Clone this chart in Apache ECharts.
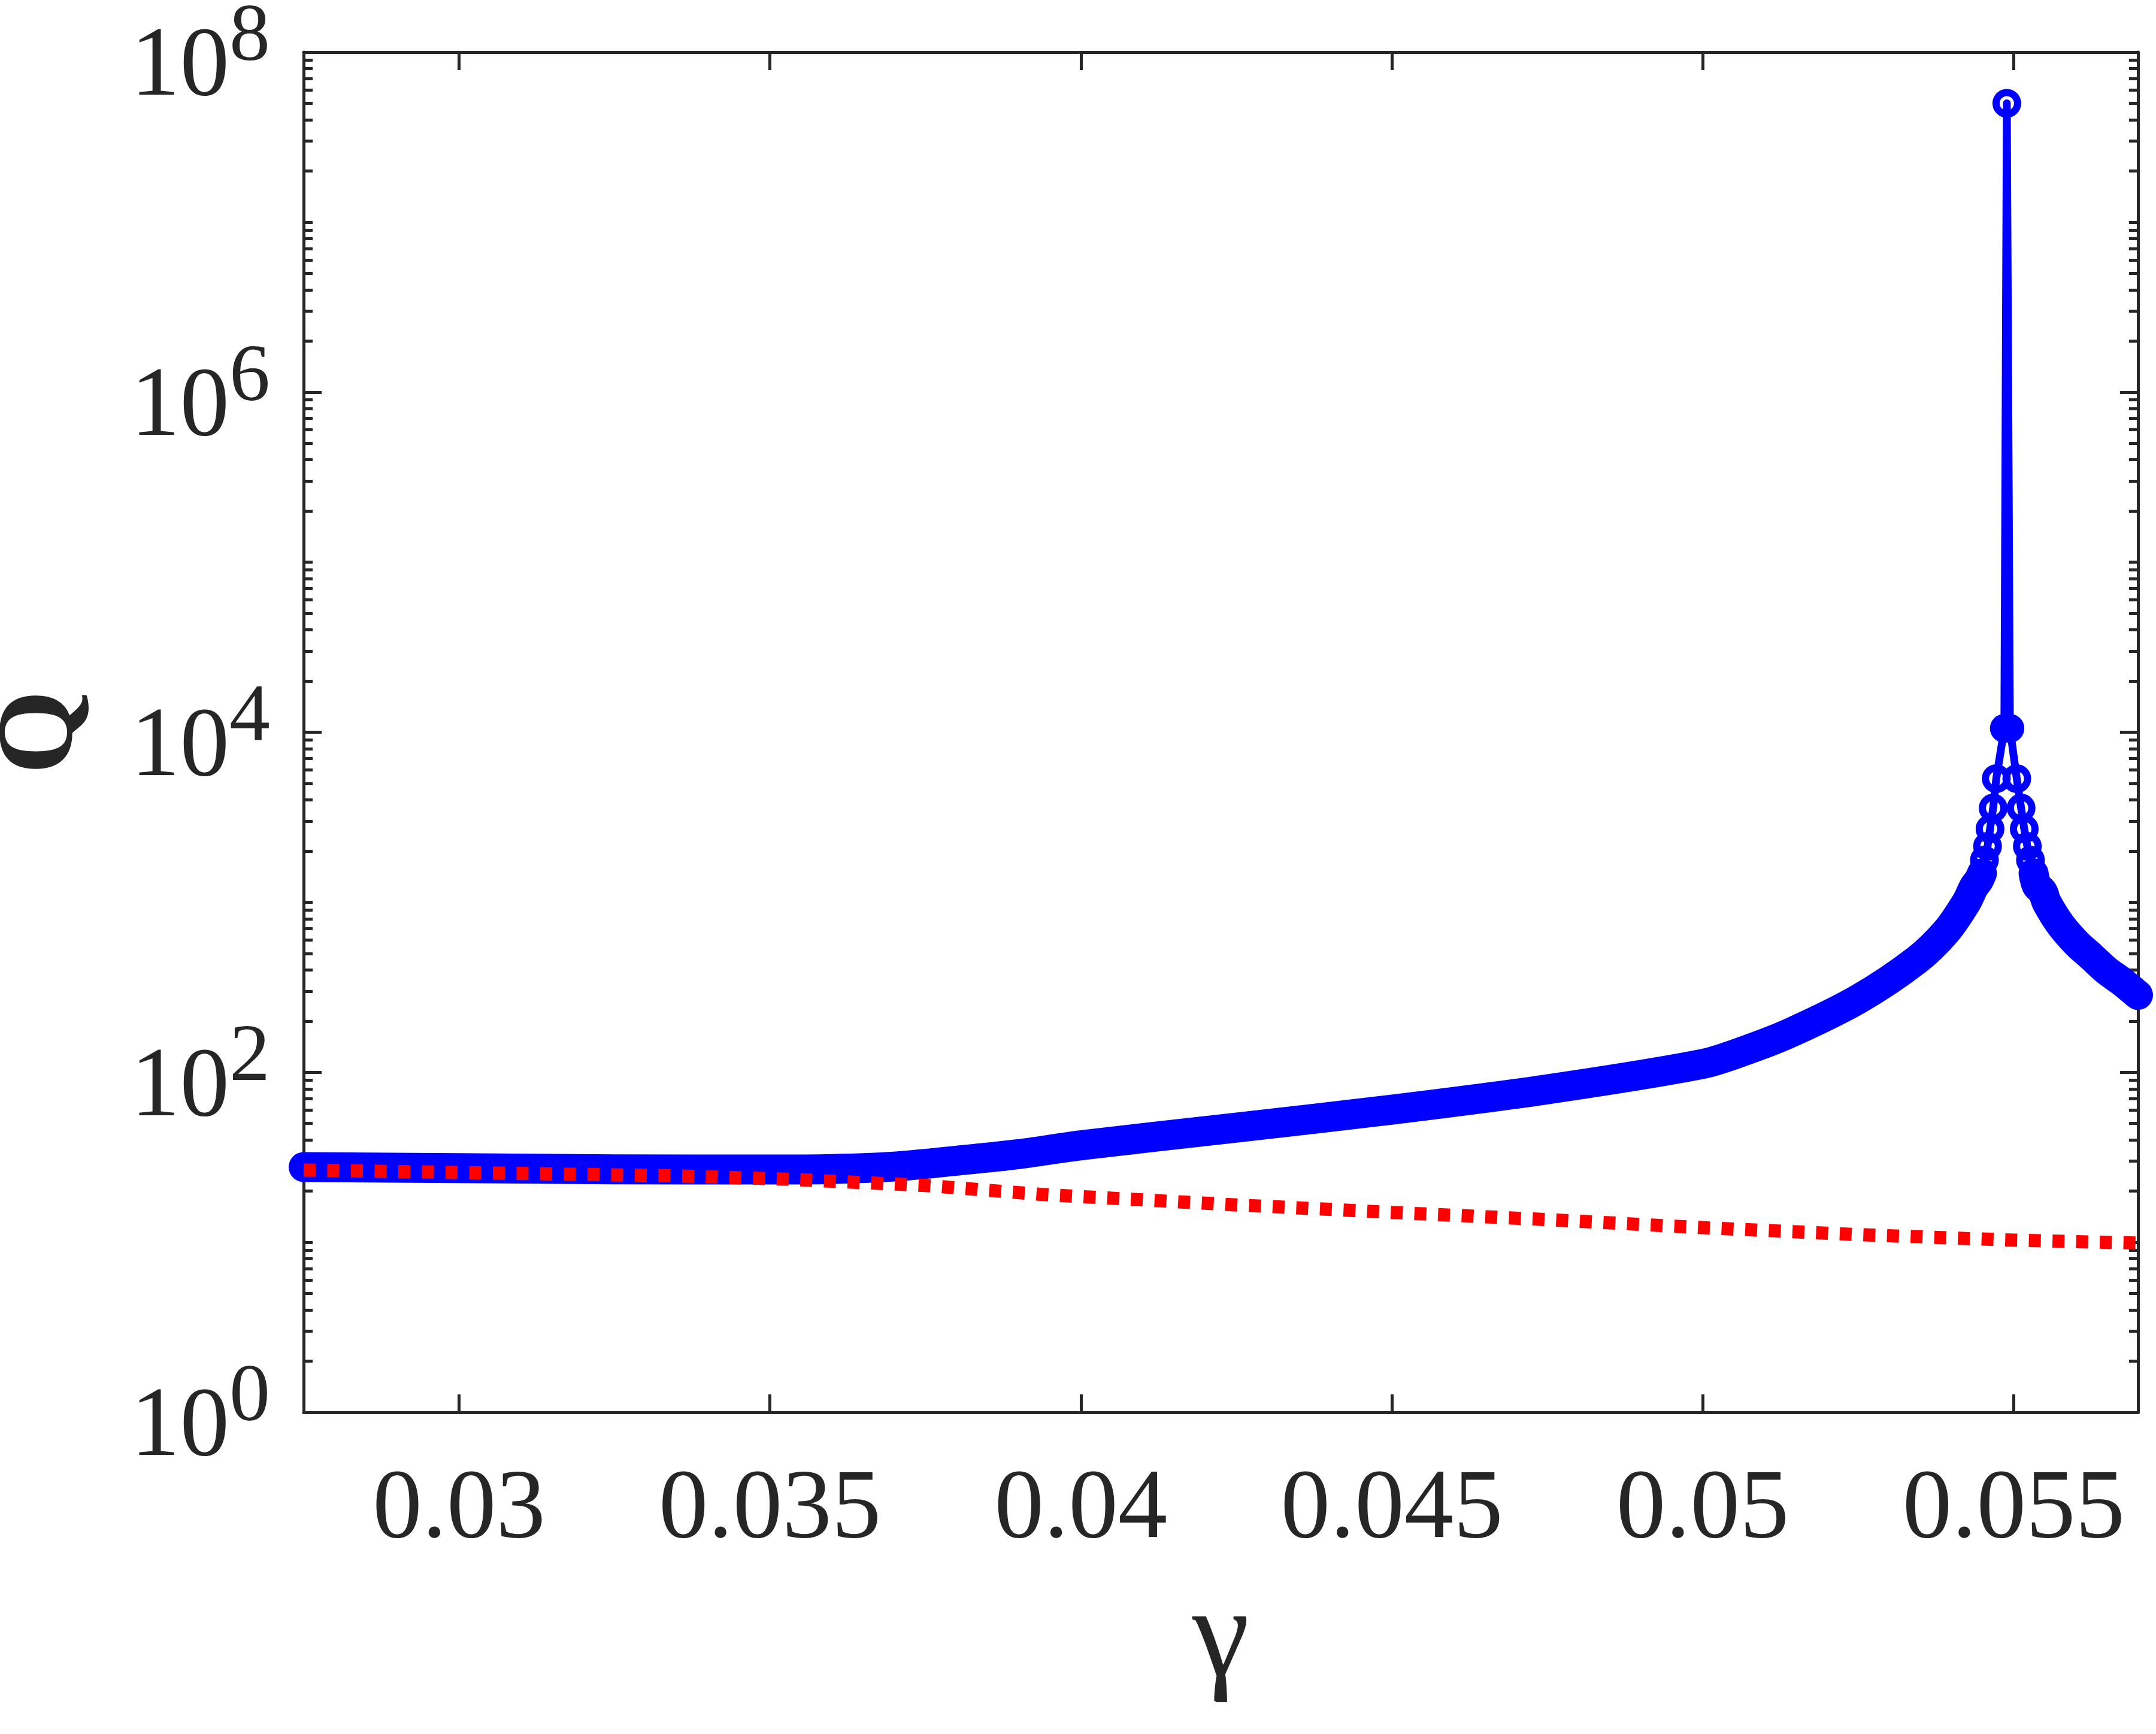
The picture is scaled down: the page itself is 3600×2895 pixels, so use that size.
<!DOCTYPE html>
<html>
<head>
<meta charset="utf-8">
<title>Q versus gamma</title>
<script src="https://cdn.jsdelivr.net/npm/echarts@6.0.0/dist/echarts.min.js"></script>
<style>
  html, body { margin: 0; padding: 0; background: #fff; }
  #chart { width: 3600px; height: 2895px; }
</style>
</head>
<body>
<div id="chart"></div>
<script>
// blue curve, branch below the resonance (dense markers merge into a band)
const gammaLeft = [0.0275, 0.0300, 0.0325, 0.0350, 0.0360, 0.0370, 0.0380, 0.0390, 0.0400, 0.0425,
  0.0450, 0.0475, 0.0500, 0.0507, 0.0514, 0.0525, 0.05344, 0.05392, 0.05424, 0.05436, 0.05444, 0.05449]
const qLeft = [27.7, 27.3, 26.9, 26.8, 27.0, 27.9, 30.2, 33.0, 37.2, 47.3,
  60.3, 79.4, 112, 135, 170, 269, 457, 676, 1000, 1230, 1350, 1479]

// blue curve around the resonance, where single circles are visible
const gammaPeak = [0.05436, 0.05444, 0.05449, 0.05453, 0.05458, 0.05462, 0.05467, 0.05472, 0.05485,
  0.05489, 0.05494, 0.05505, 0.05512, 0.05517, 0.05522, 0.05527, 0.05532, 0.05537]
const qPeak = [1230, 1350, 1479, 1770, 2133, 2698, 3581, 5333, 10540,
  5.0e7, 10540, 5333, 3581, 2698, 2133, 1770, 1479, 1259]

// blue curve, branch above the resonance
const gammaRight = [0.05532, 0.05537, 0.05547, 0.05553, 0.05575, 0.05601, 0.05625, 0.05649, 0.05675, 0.05700]
const qRight = [1479, 1259, 1148, 1000, 741, 575, 479, 398, 339, 285]

// red dotted curve
const gammaRed = [0.0275, 0.0314, 0.0335, 0.0353, 0.0375, 0.0394, 0.0425, 0.0450, 0.0475, 0.0500, 0.0525, 0.0550, 0.0570]
const qRed = [26.6, 25.3, 24.6, 23.5, 21.6, 19.1, 16.6, 15.0, 13.6, 12.2, 11.1, 10.3, 9.9]

// axes
const xTicks = [0.03, 0.035, 0.04, 0.045, 0.05, 0.055]
const xTickLabels = ['0.03', '0.035', '0.04', '0.045', '0.05', '0.055']
const yDecadeLabels = [0, 2, 4, 6, 8]

const axisColor = '#262626'
const serif = '"Liberation Serif", "Times New Roman", serif'
const blue = '#0000ff'
const red = '#ff0000'

function pairs(xs, ys) {
  return xs.map((x, i) => [x, ys[i]])
}

// minor tick positions in decades: 2..9 x 10^k and the unlabeled decades
const yMinor = []
for (let k = 0; k < 8; k++) {
  for (let m = 1; m < 10; m++) {
    if (m === 1 && k % 2 === 0) continue
    yMinor.push(k + Math.log10(m))
  }
}

function tickAxis(position, values, length, extra) {
  return Object.assign({
    type: 'value',
    position: position,
    min: 0,
    max: 8,
    splitLine: { show: false },
    axisLine: { show: false },
    axisTick: { show: true, inside: true, length: length, customValues: values, lineStyle: { color: axisColor, width: 5 } },
    axisLabel: { show: false }
  }, extra || {})
}

function bandSeries(xs, ys) {
  return {
    type: 'line',
    xAxisIndex: 0,
    yAxisIndex: 0,
    data: pairs(xs, ys),
    symbol: 'none',
    smooth: 0.3,
    clip: false,
    silent: true,
    z: 2,
    lineStyle: { color: blue, width: 50, cap: 'round', join: 'round' }
  }
}

const chart = echarts.init(document.getElementById('chart'))

const option = {
  animation: false,
  backgroundColor: '#ffffff',
  grid: { left: 507, right: 30, top: 87, bottom: 537, containLabel: false, outerBoundsMode: 'none' },
  xAxis: [
    {
      type: 'value',
      position: 'bottom',
      min: 0.0275,
      max: 0.057,
      name: 'γ',
      nameLocation: 'middle',
      nameGap: 275,
      nameMoveOverlap: false,
      nameTextStyle: { fontFamily: serif, fontSize: 215, lineHeight: 215, color: axisColor },
      splitLine: { show: false },
      axisLine: { show: true, onZero: false, lineStyle: { color: axisColor, width: 5 } },
      axisTick: { show: true, inside: true, length: 30, customValues: xTicks, lineStyle: { color: axisColor, width: 5 } },
      axisLabel: {
        show: true,
        customValues: xTicks,
        margin: 81,
        fontFamily: serif,
        fontSize: 165,
        lineHeight: 168,
        color: axisColor,
        formatter: (v) => xTickLabels[xTicks.findIndex(t => Math.abs(t - v) < 1e-9)]
      }
    },
    {
      type: 'value',
      position: 'top',
      min: 0.0275,
      max: 0.057,
      splitLine: { show: false },
      axisLine: { show: true, onZero: false, lineStyle: { color: axisColor, width: 5 } },
      axisTick: { show: true, inside: true, length: 30, customValues: xTicks, lineStyle: { color: axisColor, width: 5 } },
      axisLabel: { show: false }
    }
  ],
  yAxis: [
    // log axis that carries the data
    {
      type: 'log',
      logBase: 10,
      min: 1,
      max: 1e8,
      show: false
    },
    tickAxis('left', yDecadeLabels, 30, {
      name: 'Q',
      nameLocation: 'middle',
      nameRotate: 90,
      nameGap: 345,
      nameMoveOverlap: false,
      nameTextStyle: { fontFamily: serif, fontSize: 180, fontWeight: 'bold', lineHeight: 180, color: axisColor },
      axisLine: { show: true, onZero: false, lineStyle: { color: axisColor, width: 5 } },
      axisLabel: {
        show: true,
        customValues: yDecadeLabels,
        margin: 56,
        padding: [56, 0, 0, 0],
        formatter: (v) => '{b|10}{s|' + Math.round(v) + '}',
        rich: {
          b: { fontFamily: serif, fontSize: 165, lineHeight: 237, verticalAlign: 'middle', color: axisColor },
          s: { fontFamily: serif, fontSize: 136, lineHeight: 100, verticalAlign: 'top', color: axisColor }
        }
      }
    }),
    tickAxis('left', yMinor, 15),
    tickAxis('right', yDecadeLabels, 30, {
      axisLine: { show: true, onZero: false, lineStyle: { color: axisColor, width: 5 } }
    }),
    tickAxis('right', yMinor, 15)
  ],
  series: [
    bandSeries(gammaLeft, qLeft),
    bandSeries(gammaRight, qRight),
    {
      type: 'line',
      xAxisIndex: 0,
      yAxisIndex: 0,
      data: pairs(gammaPeak, qPeak),
      symbol: 'circle',
      symbolSize: 36,
      showAllSymbol: true,
      clip: false,
      silent: true,
      z: 3,
      lineStyle: { color: blue, width: 13, join: 'round' },
      itemStyle: { color: 'rgba(0,0,0,0)', borderColor: blue, borderWidth: 12 }
    },
    {
      type: 'line',
      xAxisIndex: 0,
      yAxisIndex: 0,
      data: pairs(gammaRed, qRed),
      symbol: 'none',
      clip: false,
      silent: true,
      z: 4,
      lineStyle: { color: red, width: 22, type: [20, 19.5], cap: 'butt' }
    }
  ]
}

chart.setOption(option)
</script>
</body>
</html>
